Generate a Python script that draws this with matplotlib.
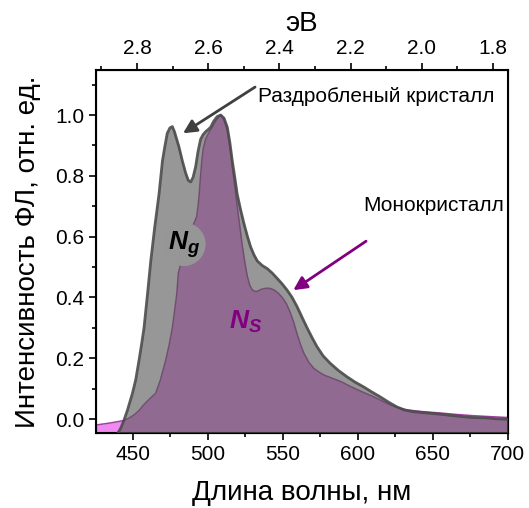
import numpy as np
import matplotlib.pyplot as plt
from matplotlib.ticker import MultipleLocator

plt.rcParams['font.family'] = ['Liberation Sans', 'DejaVu Sans']
plt.rcParams['mathtext.fontset'] = 'custom'
plt.rcParams['mathtext.it'] = 'Liberation Sans:italic:bold'
plt.rcParams['mathtext.rm'] = 'Liberation Sans:bold'

# Раздробленый кристалл (Ng)
wl_g = [438, 440, 442, 444.2, 446.5, 448, 449.8, 452, 454.2, 456, 457.5, 459.8,
        462, 464.6, 467.5, 469.8, 471.5, 473, 474.8, 476.4, 477.8, 479.3, 480.8,
        483, 485.2, 487, 488.6, 490.2, 491.9, 493.5, 495.2, 496.8, 498.5, 500.2,
        501.9, 504, 506.3, 508.6, 510.8, 513, 514.7, 516.3, 518, 519.6, 521.8,
        524, 526.3, 528.5, 530.8, 533, 536.3, 539.6, 543, 546.2, 549.5, 552.9,
        556.2, 559.5, 562.8, 566.2, 569.5, 572.8, 577, 581.7, 587, 592.8, 598,
        603.8, 609, 614.9, 620, 626, 631, 637, 646, 654.8, 662, 670, 677, 685,
        692, 700]
int_g = [-0.07, -0.047, -0.03, -0.003, 0.03, 0.055, 0.085, 0.13, 0.194, 0.25,
         0.30, 0.41, 0.52, 0.63, 0.74, 0.85, 0.90, 0.94, 0.958, 0.962, 0.945,
         0.92, 0.895, 0.85, 0.81, 0.785, 0.78, 0.795, 0.83, 0.88, 0.92, 0.935,
         0.945, 0.952, 0.96, 0.98, 0.995, 1.0, 0.99, 0.96, 0.91, 0.85, 0.795,
         0.74, 0.69, 0.645, 0.603, 0.567, 0.54, 0.52, 0.505, 0.495, 0.48, 0.463,
         0.445, 0.424, 0.40, 0.37, 0.335, 0.30, 0.268, 0.238, 0.207, 0.183, 0.16,
         0.139, 0.122, 0.106, 0.09, 0.073, 0.057, 0.04, 0.03, 0.024, 0.02, 0.016,
         0.012, 0.008, 0.005, 0.004, 0.001, -0.001]

# Монокристалл (Ns)
wl_s = [425, 435, 444, 447.5, 450.7, 454, 457, 461, 465.3, 468.5, 472, 474.3,
        476.4, 478, 479.3, 480.4, 484, 488, 490, 492.6, 493.5, 494.3, 495.2, 496,
        497, 498.5, 500.5, 503, 505.5, 508.5, 510.8, 513, 514.7, 516.3, 518,
        519.6, 521.3, 523, 524.7, 526.3, 528, 529.6, 531.3, 533, 535.8, 538.5,
        541.3, 544, 546.8, 549.6, 552.3, 555, 557.3, 559.5, 561.8, 564, 567.3,
        570.6, 574, 577.3, 583, 588.4, 594, 599.5, 605, 610.6, 616, 621.7, 627,
        632.8, 644, 654.8, 666, 677, 688, 700]
int_s = [-0.02, -0.013, -0.005, 0.003, 0.013, 0.027, 0.045, 0.065, 0.085, 0.13,
         0.194, 0.245, 0.30, 0.36, 0.41, 0.48, 0.55, 0.61, 0.635, 0.665, 0.70,
         0.74, 0.80, 0.85, 0.89, 0.92, 0.94, 0.96, 0.982, 1.0, 0.985, 0.95, 0.895,
         0.83, 0.765, 0.70, 0.635, 0.57, 0.515, 0.47, 0.44, 0.425, 0.42, 0.42,
         0.427, 0.43, 0.43, 0.425, 0.415, 0.40, 0.38, 0.35, 0.318, 0.28, 0.245,
         0.217, 0.187, 0.167, 0.155, 0.145, 0.134, 0.124, 0.11, 0.097, 0.085,
         0.073, 0.06, 0.046, 0.037, 0.03, 0.024, 0.02, 0.015, 0.011, 0.008, 0.005]

fig = plt.figure(figsize=(5.29, 5.08), dpi=100)
ax = fig.add_axes([0.1815, 0.1476, 0.7785, 0.7145])

ax.fill_between(wl_s, -0.1, int_s, color='#f08af0', lw=0, zorder=1)
ax.plot(wl_s, int_s, color='#a040a0', lw=1.1, zorder=2)
ax.fill_between(wl_g, -0.1, int_g, color='#575757', alpha=0.62, lw=0, zorder=3)
ax.plot(wl_g, int_g, color='#4a4a4a', lw=2, alpha=0.9, zorder=4)

ax.set_xlim(425.5, 700)
ax.set_ylim(-0.046, 1.148)
ax.xaxis.set_major_locator(MultipleLocator(50))
ax.xaxis.set_minor_locator(MultipleLocator(25))
ax.yaxis.set_major_locator(MultipleLocator(0.2))
ax.yaxis.set_minor_locator(MultipleLocator(0.1))
ax.tick_params(which='major', direction='out', length=5, width=1.2, labelsize=15)
ax.tick_params(which='minor', direction='out', length=3, width=1.2)
ax.yaxis.set_major_formatter(plt.FormatStrFormatter('%.1f'))
for s in ax.spines.values():
    s.set_linewidth(1.5)

ax.set_xlabel('Длина волны, нм', fontsize=20, labelpad=12)
ax.set_ylabel('Интенсивность ФЛ, отн. ед.', fontsize=20, labelpad=10)

# верхняя ось, эВ
ax2 = ax.twiny()
ax2.set_xlim(2.915, 1.758)
ax2.xaxis.set_major_locator(MultipleLocator(0.2))
ax2.xaxis.set_minor_locator(MultipleLocator(0.1))
ax2.xaxis.set_major_formatter(plt.FormatStrFormatter('%.1f'))
ax2.tick_params(which='major', direction='out', length=5, width=1.2, labelsize=15)
ax2.tick_params(which='minor', direction='out', length=3, width=1.2)
ax2.set_xlabel('эВ', fontsize=20, labelpad=6)

ax.annotate('', xy=(483.5, 0.94), xytext=(531.5, 1.092),
            arrowprops=dict(arrowstyle='-|>', color='#404040', lw=2,
                            mutation_scale=20, shrinkA=0, shrinkB=0), zorder=6)
ax.text(533.5, 1.06, 'Раздробленый кристалл', fontsize=15, ha='left', va='center')
ax.annotate('', xy=(557, 0.424), xytext=(605.5, 0.585),
            arrowprops=dict(arrowstyle='-|>', color='#800080', lw=2,
                            mutation_scale=20, shrinkA=0, shrinkB=0), zorder=6)
ax.text(603.5, 0.704, 'Монокристалл', fontsize=15, ha='left', va='center')

ax.text(484, 0.575, '$N_g$', fontsize=19, color='black', ha='center', va='center',
        zorder=7, bbox=dict(boxstyle='circle,pad=0.22', fc='#969696', ec='none'))
ax.text(525.5, 0.32, '$N_S$', fontsize=19, color='#800080', ha='center', va='center',
        zorder=7)

fig.savefig('out.png', dpi=100)
